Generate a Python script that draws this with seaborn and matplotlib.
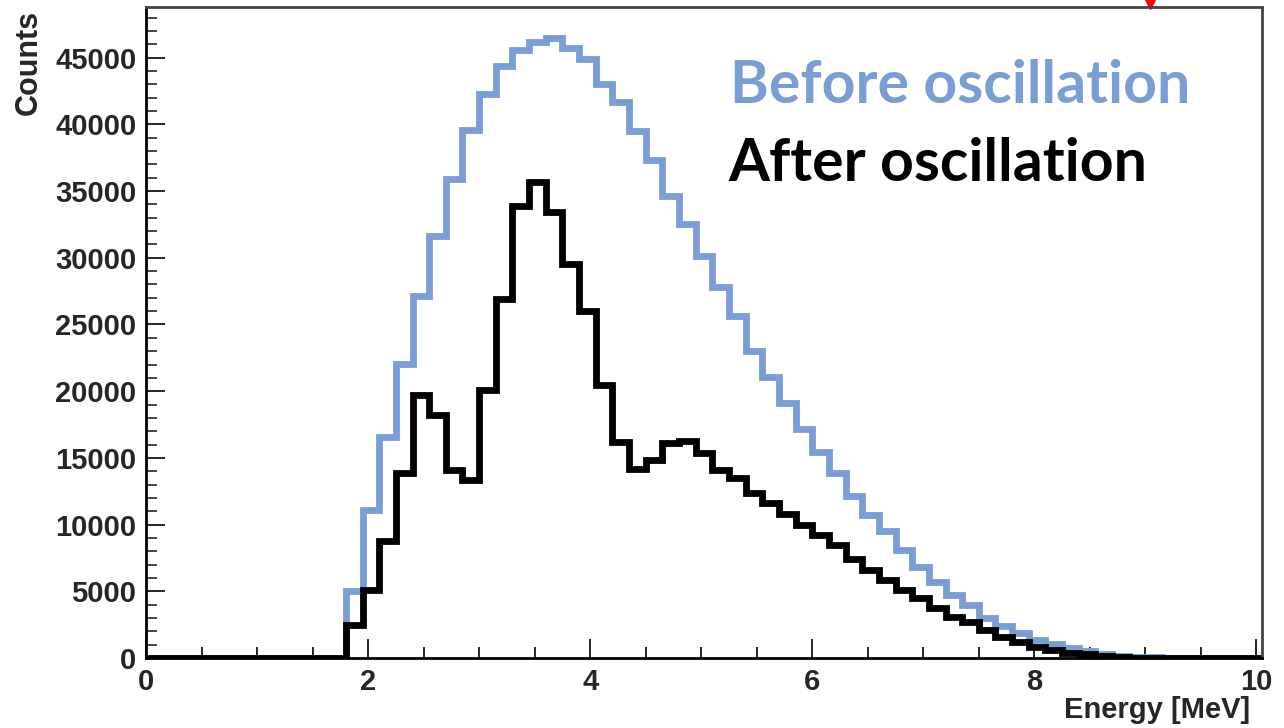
import numpy as np
import pandas as pd
import matplotlib
matplotlib.use("Agg")
import matplotlib.pyplot as plt
from matplotlib.ticker import MultipleLocator
import seaborn as sns

# ---------------- data ----------------
bin_width = 0.15          # MeV
n_bins = 67               # 0 .. 10.05 MeV
first_bin = 12            # first non-empty bin starts at 1.80 MeV

before_counts = [5000, 11100, 16600, 22050, 27100, 31600, 35900, 39600, 42300, 44400,
                 45600, 46200, 46500, 45700, 44900, 43000, 41700, 39500, 37350, 34650,
                 32500, 30100, 27800, 25600, 23050, 21100, 19150, 17150, 15450, 13870,
                 12120, 10700, 9550, 8100, 6850, 5680, 4730, 3980, 2980, 2430,
                 1850, 1350, 1030, 730, 550, 320, 180, 100, 50, 20]

after_counts = [2500, 5100, 8800, 13850, 19700, 18200, 14100, 13350, 20100, 26900,
                33850, 35700, 33400, 29500, 26000, 20500, 16200, 14200, 14850, 16100,
                16300, 15350, 14100, 13480, 12350, 11600, 10800, 9980, 9230, 8480,
                7400, 6600, 5850, 5100, 4475, 3725, 3100, 2725, 2100, 1600,
                1225, 850, 600, 400, 280, 180, 100]

series_labels = ["Before oscillation", "After oscillation"]
x_label = "Energy [MeV]"
y_label = "Counts"

# ---------------- build histogram table ----------------
edges = [round(i * bin_width, 4) for i in range(n_bins + 1)]
centers = np.array(edges[:-1]) + bin_width / 2
before = np.zeros(n_bins)
before[first_bin:first_bin + len(before_counts)] = before_counts
after = np.zeros(n_bins)
after[first_bin:first_bin + len(after_counts)] = after_counts

df = pd.DataFrame({
    "energy": np.concatenate([centers, centers]),
    "counts": np.concatenate([before, after]),
    "series": [series_labels[0]] * n_bins + [series_labels[1]] * n_bins,
})

blue = "#7b9dd5"

sns.set_theme(style="ticks")
plt.rcParams["font.family"] = ["Liberation Sans", "DejaVu Sans"]
plt.rcParams["font.weight"] = "bold"

fig = plt.figure(figsize=(12.84, 7.28), dpi=100)
ax = fig.add_axes([146 / 1284, 1 - 658 / 728, 1116 / 1284, 651 / 728])

for label, color in zip(series_labels, [blue, "black"]):
    sub = df[df["series"] == label]
    sns.histplot(data=sub, x="energy", weights="counts", bins=edges,
                 element="step", fill=False, color=color, linewidth=4.9,
                 solid_joinstyle="miter", ax=ax)

ax.set_xlim(edges[0], edges[-1])
ax.set_ylim(0, 48800)

ax.xaxis.set_major_locator(MultipleLocator(2))
ax.xaxis.set_minor_locator(MultipleLocator(0.5))
ax.yaxis.set_major_locator(MultipleLocator(5000))
ax.yaxis.set_minor_locator(MultipleLocator(1000))
ax.tick_params(axis="x", which="major", direction="in", length=14, width=1.4,
               labelsize=21, pad=7)
ax.tick_params(axis="x", which="minor", direction="in", length=8, width=1.4)
ax.tick_params(axis="y", which="major", direction="in", length=14, width=1.4,
               labelsize=21, pad=7)
ax.tick_params(axis="y", which="minor", direction="in", length=8, width=1.2)
for lab in ax.get_xticklabels() + ax.get_yticklabels():
    lab.set_fontweight("bold")

ax.set_xlabel(x_label, loc="right", fontsize=21, fontweight="bold", labelpad=0)
ax.xaxis.label.set_x((1250 - 146) / 1116)
ax.set_ylabel(y_label, loc="top", fontsize=22, fontweight="bold", labelpad=8)
ax.yaxis.label.set_y(1 - 3 / 651)

for side in ["left", "bottom"]:
    ax.spines[side].set_color("black")
    ax.spines[side].set_linewidth(2)
for side in ["top", "right"]:
    ax.spines[side].set_color("#444444")
    ax.spines[side].set_linewidth(2)

ax.text(0.523, (658 - 103) / 651, series_labels[0], transform=ax.transAxes,
        color=blue, fontsize=42.5, fontweight="bold", family=["Lato", "DejaVu Sans"],
        ha="left", va="baseline")
ax.text(0.522, (658 - 181) / 651, series_labels[1], transform=ax.transAxes,
        color="black", fontsize=42.5, fontweight="bold", family=["Lato", "DejaVu Sans"],
        ha="left", va="baseline")

# small red arrow head at the top edge (slide annotation)
ax.plot([(1150 - 146) / 1116], [1.004], marker="v", color="red", markersize=7,
        transform=ax.transAxes, clip_on=False)

fig.savefig("out.png", dpi=100)
